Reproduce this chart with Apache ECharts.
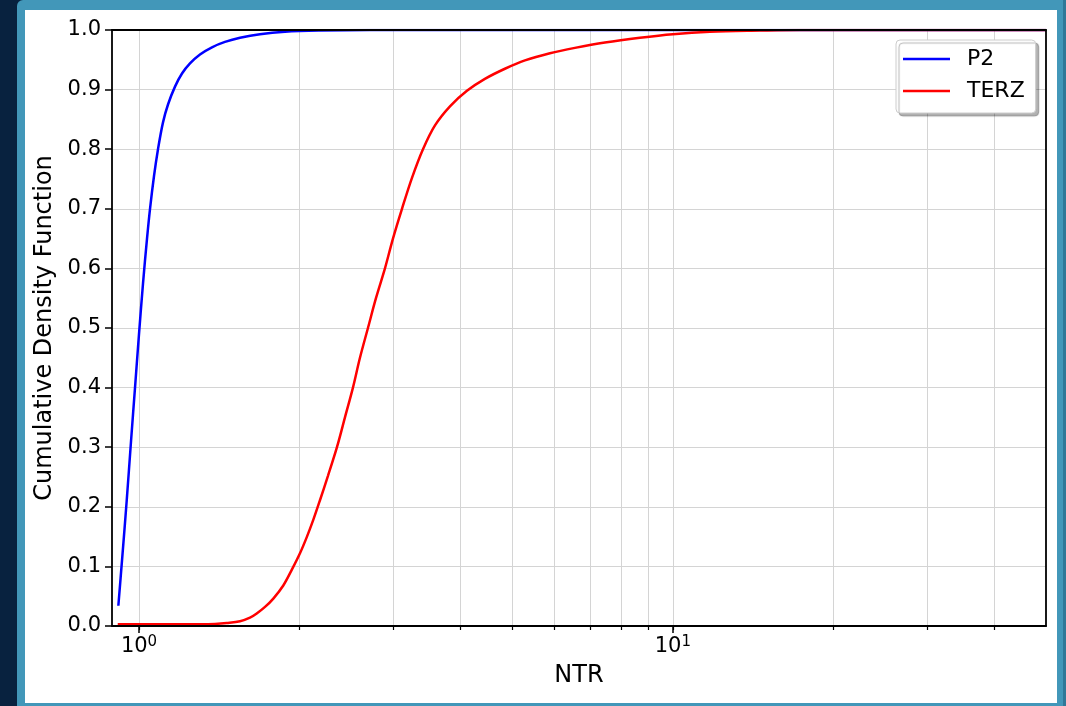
<!DOCTYPE html>
<html>
<head>
<meta charset="utf-8">
<script src="https://cdn.jsdelivr.net/npm/echarts@6/dist/echarts.min.js"></script>
<style>
  html, body { margin: 0; padding: 0; width: 1066px; height: 706px; overflow: hidden; background: #08223f; }
  #frame { position: absolute; left: 17px; top: 0; width: 1049px; height: 706px; background: #4297b9; border-top-left-radius: 6px; }
  #edge { position: absolute; left: 1063px; top: 0; width: 3px; height: 706px; background: #2f7898; }
  #paper { position: absolute; left: 25px; top: 10px; width: 1032px; height: 693px; background: #ffffff; }
  #chart { position: absolute; left: 0; top: 0; width: 1066px; height: 706px; }
</style>
</head>
<body>
<div id="frame"></div>
<div id="edge"></div>
<div id="paper"></div>
<div id="chart"></div>
<script>
// ---- data (NTR values on a log axis, CDF values) ----
const seriesNames = ['P2', 'TERZ'];
const p2Ntr = [0.9147, 0.9293, 0.9484, 0.9661, 0.9829, 1.0, 1.0174, 1.0351, 1.0486, 1.0668, 1.0853, 1.109, 1.1332, 1.1679, 1.2037, 1.2459, 1.3008, 1.3698, 1.4488, 1.546, 1.6847, 1.8769, 2.1827, 2.708, 50];
const p2Cdf = [0.034, 0.11, 0.211, 0.31, 0.40, 0.49, 0.575, 0.65, 0.70, 0.755, 0.80, 0.845, 0.875, 0.905, 0.927, 0.944, 0.959, 0.971, 0.980, 0.987, 0.993, 0.997, 0.999, 1.0, 1.0];
const terzNtr = [0.9123, 1.0948, 1.3008, 1.3878, 1.4599, 1.546, 1.614, 1.6615, 1.722, 1.7848, 1.8632, 1.9344, 2.0022, 2.0636, 2.1203, 2.1825, 2.2591, 2.3485, 2.4309, 2.5162, 2.5934, 2.6845, 2.7787, 2.8887, 2.9901, 3.1088, 3.2459, 3.4035, 3.5843, 3.8237, 4.1139, 4.4453, 4.8458, 5.2838, 5.8846, 6.5545, 7.4596, 8.6753, 10, 11.731, 14.551, 17.292, 50];
const terzCdf = [0.003, 0.003, 0.003, 0.0035, 0.005, 0.008, 0.014, 0.021, 0.032, 0.046, 0.068, 0.095, 0.122, 0.150, 0.178, 0.211, 0.252, 0.30, 0.35, 0.40, 0.45, 0.50, 0.55, 0.60, 0.65, 0.70, 0.752, 0.80, 0.840, 0.872, 0.898, 0.918, 0.935, 0.949, 0.961, 0.970, 0.979, 0.987, 0.993, 0.997, 0.999, 1.0, 1.0];
const xMin = 0.89, xMax = 50;
const majorTicks = [1, 10];
const minorTicks = [1, 2, 3, 4, 5, 6, 7, 8, 9, 10, 20, 30, 40];
const xTitle = 'NTR';
const yTitle = 'Cumulative Density Function';

const L = Math.log10;
const toPts = (xs, ys) => xs.map((x, i) => [L(x), ys[i]]);
const FONT = 'DejaVu Sans';
const spine = { show: true, onZero: false, lineStyle: { color: '#000', width: 1.8 } };
const bare = { axisTick: { show: false }, axisLabel: { show: false }, splitLine: { show: false } };

const chart = echarts.init(document.getElementById('chart'), null, { renderer: 'canvas' });
chart.setOption({
  animation: false,
  textStyle: { fontFamily: FONT },
  grid: { left: 112, top: 30, right: 20, bottom: 80, show: false },
  legend: {
    orient: 'vertical', left: 896, top: 40, z: 10,
    padding: [6, 11, 9, 7],
    itemWidth: 47, itemHeight: 2.5, itemGap: 6,
    icon: 'rect',
    backgroundColor: '#fff', borderColor: '#cccccc', borderWidth: 1, borderRadius: 4,
    shadowColor: 'rgba(0,0,0,0.3)', shadowBlur: 1, shadowOffsetX: 3, shadowOffsetY: 3,
    textStyle: { fontFamily: FONT, fontSize: 22, color: '#000', lineHeight: 26, padding: [0, 0, 0, 12] },
    data: seriesNames
  },
  xAxis: [
    {
      type: 'value', position: 'bottom', min: L(xMin), max: L(xMax), z: 5,
      name: xTitle, nameLocation: 'middle', nameGap: 38,
      nameTextStyle: { fontFamily: FONT, fontSize: 24, color: '#000' },
      axisLine: spine,
      axisTick: { show: true, length: 7, lineStyle: { color: '#000', width: 1.5 }, customValues: majorTicks.map(L) },
      axisLabel: {
        customValues: majorTicks.map(L), margin: 9, color: '#000',
        formatter: v => '{b|10}{s|' + Math.round(v) + '}',
        rich: {
          b: { fontFamily: FONT, fontSize: 21, color: '#000', lineHeight: 24 },
          s: { fontFamily: FONT, fontSize: 15, color: '#000', lineHeight: 15, verticalAlign: 'top' }
        }
      },
      splitLine: { show: false }
    },
    {
      type: 'value', position: 'bottom', min: L(xMin), max: L(xMax), z: 1,
      axisLine: { show: false, onZero: false },
      axisTick: { show: true, length: 4, lineStyle: { color: '#000', width: 1.2 }, customValues: minorTicks.map(L) },
      axisLabel: { show: false, customValues: minorTicks.map(L) },
      splitLine: { show: true, lineStyle: { color: '#d4d4d4', width: 1 } }
    },
    Object.assign({ type: 'value', position: 'top', min: L(xMin), max: L(xMax), z: 5, axisLine: spine }, bare)
  ],
  yAxis: [
    {
      type: 'value', position: 'left', min: 0, max: 1, interval: 0.1, z: 1,
      name: yTitle, nameLocation: 'middle', nameGap: 55,
      nameTextStyle: { fontFamily: FONT, fontSize: 24, color: '#000' },
      axisLine: { show: false, onZero: false },
      axisTick: { show: true, length: 7, lineStyle: { color: '#000', width: 1.5 } },
      axisLabel: { fontFamily: FONT, fontSize: 21, color: '#000', margin: 11, formatter: v => v.toFixed(1) },
      splitLine: { show: true, lineStyle: { color: '#d4d4d4', width: 1 } }
    },
    Object.assign({ type: 'value', position: 'left', min: 0, max: 1, interval: 0.1, z: 5, axisLine: spine }, bare),
    Object.assign({ type: 'value', position: 'right', min: 0, max: 1, interval: 0.1, z: 5, axisLine: spine }, bare)
  ],
  series: [
    { name: seriesNames[0], type: 'line', xAxisIndex: 0, yAxisIndex: 0, z: 2, data: toPts(p2Ntr, p2Cdf), showSymbol: false, symbol: 'none', smooth: 0.35, lineStyle: { color: '#0000ff', width: 2.5 }, itemStyle: { color: '#0000ff' } },
    { name: seriesNames[1], type: 'line', xAxisIndex: 0, yAxisIndex: 0, z: 2, data: toPts(terzNtr, terzCdf), showSymbol: false, symbol: 'none', smooth: 0.35, lineStyle: { color: '#ff0000', width: 2.5 }, itemStyle: { color: '#ff0000' } }
  ]
});
</script>
</body>
</html>
